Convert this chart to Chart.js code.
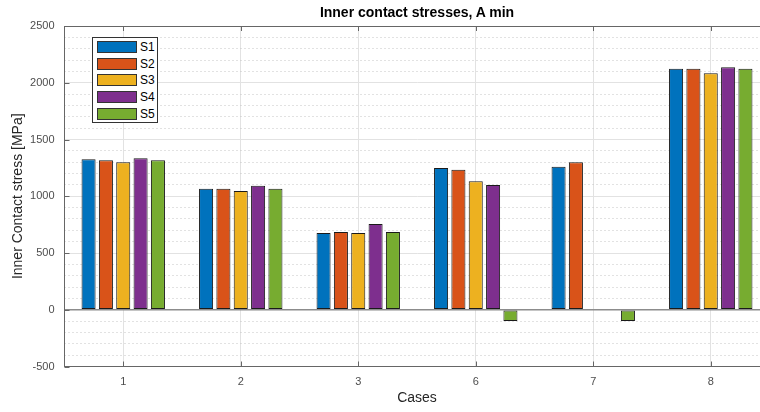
<!DOCTYPE html>
<html>
<head>
<meta charset="utf-8">
<script src="https://cdn.jsdelivr.net/npm/chart.js"></script>
<style>
  body { margin: 0; overflow: hidden; background: #fff; font-family: "Liberation Sans", Arial, sans-serif; }
  #wrap { position: relative; width: 775px; height: 412px; }
  #title { position: absolute; left: 0; top: 4px; width: 834px; text-align: center; font-weight: bold; font-size: 14px; color: #000; }
  #legend { position: absolute; left: 92px; top: 37px; width: 64px; height: 83px; border: 1px solid #333; background: #fff; padding-top: 1px; }
  .row { height: 16.6px; display: flex; align-items: center; font-size: 12px; color: #000; }
  .sw { width: 38px; height: 10px; border: 1px solid #333; margin: 0 3px 0 4px; }
</style>
</head>
<body>
<div id="wrap">
  <canvas id="chart" width="775" height="412"></canvas>
  <div id="title">Inner contact stresses, A min</div>
  <div id="legend"></div>
</div>
<script>
const cases = ['1', '2', '3', '6', '7', '8'];
const s1 = [1326, 1065, 677, 1250, 1259, 2124];
const s2 = [1318, 1065, 686, 1233, 1300, 2124];
const s3 = [1300, 1047, 677, 1133, 0, 2083];
const s4 = [1335, 1092, 756, 1100, 0, 2136];
const s5 = [1318, 1065, 686, -100, -100, 2124];
const yTicks = [-500, 0, 500, 1000, 1500, 2000, 2500];

const names = ['S1', 'S2', 'S3', 'S4', 'S5'];
const colors = ['#0072BD', '#D95319', '#EDB120', '#7E2F8E', '#77AC30'];
const series = [s1, s2, s3, s4, s5];

// inward ticks + top box line, like the matlab axes
const boxTicks = {
  id: 'boxTicks',
  afterDraw(chart) {
    const { ctx, chartArea: a, scales: { x, y } } = chart;
    ctx.save();
    ctx.strokeStyle = '#666';
    ctx.lineWidth = 1;
    ctx.beginPath();
    y.ticks.forEach((t, i) => {
      const py = Math.round(y.getPixelForTick(i)) + 0.5;
      ctx.moveTo(a.left, py); ctx.lineTo(a.left + 5, py);
    });
    x.ticks.forEach((t, i) => {
      const px = Math.round(x.getPixelForTick(i)) + 0.5;
      ctx.moveTo(px, a.bottom); ctx.lineTo(px, a.bottom - 5);
      ctx.moveTo(px, a.top); ctx.lineTo(px, a.top + 5);
    });
    ctx.moveTo(a.left, Math.round(a.top) + 0.5); ctx.lineTo(a.right, Math.round(a.top) + 0.5);
    ctx.stroke();
    ctx.restore();
  }
};

const chart = new Chart(document.getElementById('chart'), {
  type: 'bar',
  data: {
    labels: cases,
    datasets: series.map((d, i) => ({
      label: names[i],
      data: d,
      backgroundColor: colors[i],
      borderColor: '#1a1a1a',
      borderWidth: 1,
      borderSkipped: false,
      categoryPercentage: 0.738,
      barPercentage: 0.81
    }))
  },
  options: {
    responsive: false,
    animation: false,
    layout: { padding: { top: 26, right: 5.5, left: 0, bottom: 0 } },
    plugins: { legend: { display: false }, title: { display: false }, tooltip: { enabled: false } },
    scales: {
      x: {
        grid: { offset: false, color: '#e2e2e2', drawTicks: false },
        border: { color: '#666' },
        ticks: { color: '#4d4d4d', font: { family: 'Liberation Sans', size: 11 }, padding: 9 },
        title: { display: true, text: 'Cases', color: '#262626', font: { family: 'Liberation Sans', size: 14 }, padding: { top: 0, bottom: 5 } },
        afterFit: s => { s.height = 45.5; }
      },
      y: {
        min: -500,
        max: 2500,
        afterBuildTicks: s => { s.ticks = yTicks.map(v => ({ value: v })); },
        grid: {
          drawTicks: false,
          color: c => c.tick && c.tick.value === 0 ? '#8c8c8c' : '#e2e2e2',
          lineWidth: c => c.tick && c.tick.value === 0 ? 1.5 : 1
        },
        border: { color: '#666' },
        ticks: { color: '#4d4d4d', font: { family: 'Liberation Sans', size: 11 }, padding: 10, callback: v => String(v) },
        title: { display: true, text: 'Inner Contact stress [MPa]', color: '#262626', font: { family: 'Liberation Sans', size: 14 }, padding: { top: 10, bottom: 0 } },
        afterFit: s => { s.width = 64.5; }
      },
      yMinor: {
        position: 'right',
        min: -500,
        max: 2500,
        ticks: { display: false, stepSize: 100, maxTicksLimit: 50 },
        grid: {
          drawTicks: false,
          color: c => c.tick && c.tick.value % 500 === 0 ? 'rgba(0,0,0,0)' : '#c4c4c4'
        },
        border: { display: false, dash: [1, 3] },
        afterFit: s => { s.width = 0; }
      }
    }
  },
  plugins: [boxTicks]
});

// legend inside the axes
const leg = document.getElementById('legend');
chart.data.datasets.forEach(ds => {
  const row = document.createElement('div');
  row.className = 'row';
  row.innerHTML = '<div class="sw" style="background:' + ds.backgroundColor + '"></div><span>' + ds.label + '</span>';
  leg.appendChild(row);
});
</script>
</body>
</html>
